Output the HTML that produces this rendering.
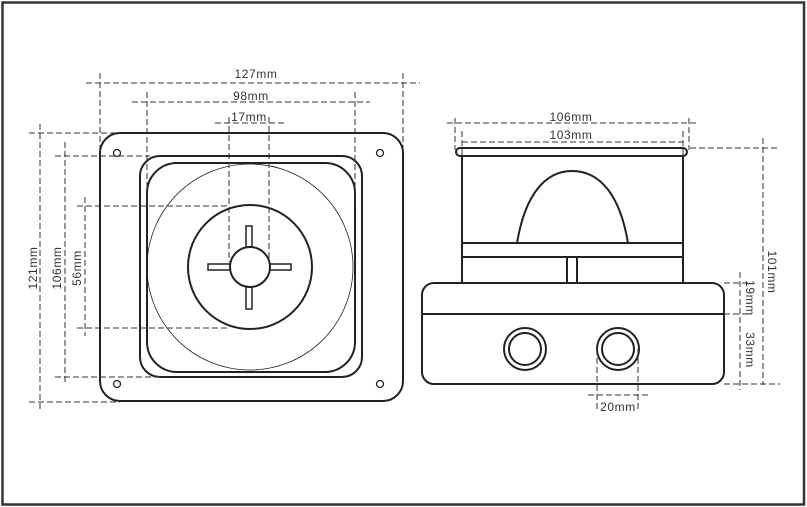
<!DOCTYPE html>
<html><head><meta charset="utf-8"><style>
html,body{margin:0;padding:0;background:#fff;}
svg{display:block;}
text{font-family:"Liberation Sans",Arial,sans-serif;font-size:12px;letter-spacing:0.6px;fill:#333;}
</style></head><body>
<svg width="807" height="507" viewBox="0 0 807 507" xmlns="http://www.w3.org/2000/svg">
<rect x="2.5" y="2.5" width="801.5" height="502" fill="none" stroke="#333" stroke-width="2.5"/>
<g fill="none" stroke="#222" stroke-width="2">
<rect x="100" y="133" width="303" height="268" rx="20"/>
<rect x="140" y="156" width="222" height="221" rx="20"/>
<rect x="147" y="163" width="208" height="209" rx="30"/>
<circle cx="250" cy="267" r="62"/>
<circle cx="250" cy="267" r="20"/>
<rect x="208" y="264" width="22" height="6" stroke-width="1.5"/>
<rect x="270" y="264" width="21" height="6" stroke-width="1.5"/>
<rect x="246" y="226" width="6" height="21" stroke-width="1.5"/>
<rect x="246" y="287" width="6" height="22" stroke-width="1.5"/>
<rect x="456" y="148" width="231" height="8" rx="4"/>
<path d="M462 156 V283 M683 156 V283"/>
<path d="M517 243 C525 195 545 171 572 171 C600 171 620 195 628 243"/>
<path d="M462 243 H683 M462 257 H683"/>
<path d="M567 257 V283 M577 257 V283"/>
<rect x="422" y="283" width="302" height="101" rx="12"/>
<path d="M422 314 H724"/>
<circle cx="525" cy="349" r="21"/>
<circle cx="525" cy="349" r="16"/>
<circle cx="618" cy="349" r="21"/>
<circle cx="618" cy="349" r="16"/>
</g>
<circle cx="250" cy="267" r="103" fill="none" stroke="#222" stroke-width="0.8"/>
<g fill="none" stroke="#222" stroke-width="1.3">
<circle cx="117" cy="153" r="3.5"/><circle cx="380" cy="153" r="3.5"/>
<circle cx="117" cy="384" r="3.5"/><circle cx="380" cy="384" r="3.5"/>
</g>
<g fill="none" stroke="#333" stroke-width="1" stroke-dasharray="6,3">
<path d="M86 83 H420 M100 73 V155 M403 73 V155"/>
<path d="M132 102 H370 M147 92 V210 M355 92 V210"/>
<path d="M215 123 H285 M229 117 V262 M269 117 V262"/>
<path d="M40 124 V411 M29 133 H120 M29 402 H120"/>
<path d="M65 142 V385 M55 156 H150 M55 377 H165"/>
<path d="M85 197 V336 M77 206 H230 M77 328 H230"/>
<path d="M447 123 H697 M455 118 V150 M689 118 V150"/>
<path d="M462 142 H683 M462 131 V156 M683 131 V156"/>
<path d="M763 138 V385 M690 148 H780 M724 384 H780"/>
<path d="M740 272 V390 M724 283 H748 M724 314 H748"/>
<path d="M597 349 V410 M638 349 V410 M588 395 H650"/>
</g>
<text x="256" y="78" text-anchor="middle">127mm</text>
<text x="251" y="100" text-anchor="middle">98mm</text>
<text x="249" y="121" text-anchor="middle">17mm</text>
<text x="571" y="121" text-anchor="middle">106mm</text>
<text x="571" y="139" text-anchor="middle">103mm</text>
<text x="618" y="411" text-anchor="middle">20mm</text>
<text transform="translate(37,268) rotate(-90)" text-anchor="middle">121mm</text>
<text transform="translate(61,268) rotate(-90)" text-anchor="middle">106mm</text>
<text transform="translate(81,268) rotate(-90)" text-anchor="middle">56mm</text>
<text transform="translate(768,272) rotate(90)" text-anchor="middle">101mm</text>
<text transform="translate(746,298) rotate(90)" text-anchor="middle">19mm</text>
<text transform="translate(746,350) rotate(90)" text-anchor="middle">33mm</text>
</svg>
</body></html>
